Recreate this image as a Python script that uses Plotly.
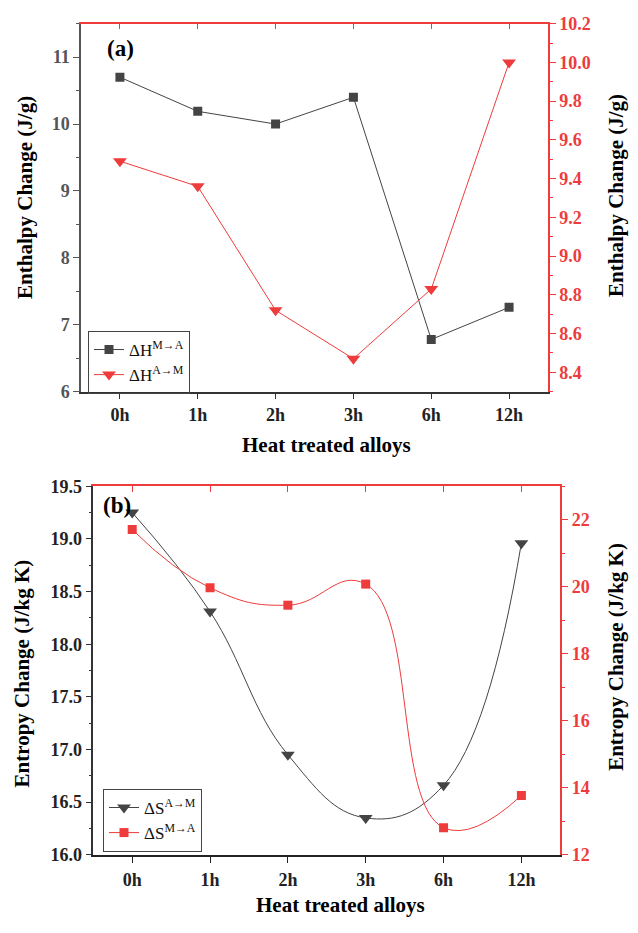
import plotly.graph_objects as go

hours = ['0h', '1h', '2h', '3h', '6h', '12h']
dH_MA = [10.7, 10.19, 10.0, 10.4, 6.78, 7.26]
dH_AM = [9.49, 9.36, 8.72, 8.47, 8.83, 10.0]
dS_AM = [19.25, 18.31, 16.95, 16.35, 16.66, 18.96]
dS_MA = [21.71, 19.97, 19.45, 20.08, 12.81, 13.77]

W, H = 638, 933
GRAY = '#444444'
RED = '#ee3b3b'
FONT = 'Liberation Serif'


def px(x):
    return x / W


def py(y):
    return 1 - y / H


fig = go.Figure()

# Panel (a)
fig.add_trace(go.Scatter(x=hours, y=dH_MA, mode='lines+markers', name='ΔH<sup>M→A</sup>',
                         line=dict(color=GRAY, width=1), marker=dict(symbol='square', size=9, color=GRAY),
                         xaxis='x', yaxis='y', legend='legend'))
fig.add_trace(go.Scatter(x=hours, y=dH_AM, mode='lines+markers', name='ΔH<sup>A→M</sup>',
                         line=dict(color=RED, width=1), marker=dict(symbol='triangle-down', size=12, color=RED),
                         xaxis='x2', yaxis='y2', legend='legend'))
# Panel (b)
fig.add_trace(go.Scatter(x=hours, y=dS_AM, mode='lines+markers', name='ΔS<sup>A→M</sup>',
                         line=dict(color=GRAY, width=1, shape='spline', smoothing=1.2),
                         marker=dict(symbol='triangle-down', size=12, color=GRAY),
                         xaxis='x3', yaxis='y3', legend='legend2'))
fig.add_trace(go.Scatter(x=hours, y=dS_MA, mode='lines+markers', name='ΔS<sup>M→A</sup>',
                         line=dict(color=RED, width=1, shape='spline', smoothing=1.3),
                         marker=dict(symbol='square', size=9, color=RED),
                         xaxis='x4', yaxis='y4', legend='legend2'))

tickfont_dark = dict(family=FONT, size=18, color='#222222', weight='bold')
tickfont_gray = dict(family=FONT, size=18, color='#555555', weight='bold')
tickfont_red = dict(family=FONT, size=18, color=RED, weight='bold')

dom_a_x = [px(81), px(548)]
dom_a_y = [py(390), py(14)]
dom_b_x = [px(93.3), px(560.3)]
dom_b_y = [py(863.3), py(486.7)]

common_x = dict(type='category', range=[-0.5, 5.5], showgrid=False, zeroline=False,
                categoryorder='array', categoryarray=hours)

fig.update_layout(
    width=W, height=H, margin=dict(l=0, r=0, t=0, b=0),
    paper_bgcolor='white', plot_bgcolor='white',
    font=dict(family=FONT),
    xaxis=dict(**common_x, domain=dom_a_x, anchor='y', side='bottom', showline=True, linecolor='#333333',
               linewidth=1.5, ticks='outside', ticklen=6, tickcolor='#333333', tickfont=tickfont_dark,
               ticklabelstandoff=0),
    yaxis=dict(domain=dom_a_y, anchor='x', range=[6, 11.5], tickvals=[6, 7, 8, 9, 10, 11], showgrid=False,
               zeroline=False, showline=True, linecolor='#555555', linewidth=1.5, ticks='outside',
               ticklen=6, tickcolor='#555555', tickfont=tickfont_gray,
               minor=dict(ticks='outside', dtick=0.5, ticklen=3, tickcolor='#555555')),
    xaxis2=dict(**common_x, domain=dom_a_x, anchor='y2', overlaying='x', side='top', showline=True,
                linecolor=RED, linewidth=1.5, ticks='inside', ticklen=6, tickcolor=RED,
                showticklabels=False),
    yaxis2=dict(domain=dom_a_y, anchor='x2', overlaying='y', side='right', range=[8.3, 10.2],
                tickvals=[8.4, 8.6, 8.8, 9.0, 9.2, 9.4, 9.6, 9.8, 10.0, 10.2], tickformat='.1f',
                showgrid=False, zeroline=False, showline=True, linecolor=RED, linewidth=1.5,
                ticks='outside', ticklen=6, tickcolor=RED, tickfont=tickfont_red,
                minor=dict(ticks='outside', dtick=0.1, tick0=8.3, ticklen=3, tickcolor=RED)),
    xaxis3=dict(**common_x, domain=dom_b_x, anchor='y3', side='bottom', showline=True, linecolor='#222222',
                linewidth=1.5, ticks='outside', ticklen=6, tickcolor='#222222', tickfont=tickfont_dark,
                ticklabelstandoff=2),
    yaxis3=dict(domain=dom_b_y, anchor='x3', range=[16.0, 19.5],
                tickvals=[16.0, 16.5, 17.0, 17.5, 18.0, 18.5, 19.0, 19.5], tickformat='.1f',
                showgrid=False, zeroline=False, showline=True, linecolor='#333333', linewidth=1.5,
                ticks='outside', ticklen=6, tickcolor='#333333', tickfont=tickfont_dark,
                minor=dict(ticks='outside', dtick=0.25, ticklen=3, tickcolor='#333333')),
    xaxis4=dict(**common_x, domain=dom_b_x, anchor='y4', overlaying='x3', side='top', showline=True,
                linecolor=RED, linewidth=1.5, ticks='inside', ticklen=6, tickcolor=RED,
                showticklabels=False),
    yaxis4=dict(domain=dom_b_y, anchor='x4', overlaying='y3', side='right', range=[12, 23],
                tickvals=[12, 14, 16, 18, 20, 22], showgrid=False, zeroline=False, showline=True,
                linecolor=RED, linewidth=1.5, ticks='outside', ticklen=6, tickcolor=RED,
                tickfont=tickfont_red,
                minor=dict(ticks='outside', dtick=1, ticklen=3, tickcolor=RED)),
    legend=dict(x=px(88), y=py(328), xanchor='left', yanchor='top', bgcolor='rgba(255,255,255,0)',
                bordercolor='#444444', borderwidth=1, font=dict(family=FONT, size=17, color='#111111'),
                itemwidth=30, tracegroupgap=0),
    legend2=dict(x=px(103), y=py(796), xanchor='left', yanchor='top', bgcolor='rgba(255,255,255,0)',
                 bordercolor='#444444', borderwidth=1, font=dict(family=FONT, size=17, color='#111111'),
                 itemwidth=30, tracegroupgap=0),
    showlegend=True,
)

title_font = dict(family=FONT, size=21, color='black')
xt_font = dict(family=FONT, size=21, color='black')
lab_font = dict(family=FONT, size=23, color='black')
annotations = [
    dict(text='<b>(a)</b>', x=px(120), y=py(39), font=lab_font),
    dict(text='<b>(b)</b>', x=px(117), y=py(506), font=lab_font),
    dict(text='<b>Heat treated alloys</b>', x=px(327), y=py(445), font=xt_font),
    dict(text='<b>Heat treated alloys</b>', x=px(340), y=py(915), font=xt_font),
    dict(text='<b>Enthalpy Change (J/g)</b>', x=px(25), y=py(192), textangle=-90, font=title_font),
    dict(text='<b>Enthalpy Change (J/g)</b>', x=px(616), y=py(190), textangle=-90, font=title_font),
    dict(text='<b>Entropy Change (J/kg K)</b>', x=px(22), y=py(678), textangle=-90, font=title_font),
    dict(text='<b>Entropy Change (J/kg K)</b>', x=px(616), y=py(661), textangle=-90, font=title_font),
]
for a in annotations:
    a.update(xref='paper', yref='paper', showarrow=False, xanchor='center', yanchor='middle')
fig.update_layout(annotations=annotations)

fig.write_html('out.html')
